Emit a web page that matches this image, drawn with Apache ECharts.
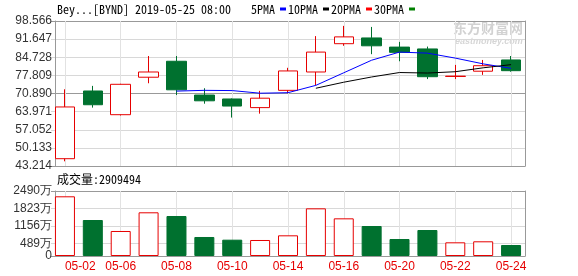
<!DOCTYPE html>
<html><head><meta charset="utf-8">
<script src="https://cdn.jsdelivr.net/npm/echarts@6/dist/echarts.min.js"></script>
<style>html,body{margin:0;padding:0;background:#fff}#c{width:578px;height:276px}</style>
</head><body><div id="c"></div>
<script>
const dates = ['05-02','05-03','05-06','05-07','05-08','05-09','05-10','05-13','05-14','05-15','05-16','05-17','05-20','05-21','05-22','05-23','05-24'];
const openV  = [46.0, 71.85, 62.8, 77.1, 83.2, 70.3, 68.8, 65.5, 72.1, 79.1, 89.9, 92.1, 88.6, 87.9, 77.4, 79.4, 83.7];
const closeV = [65.75, 66.6, 74.4, 79.1, 72.3, 68.1, 66.1, 69.1, 79.5, 86.7, 92.5, 89.1, 86.6, 77.3, 77.5, 81.5, 79.6];
const lowV   = [45.0, 65.5, 62.5, 74.8, 70.3, 67.0, 61.7, 63.2, 71.0, 74.1, 89.1, 85.9, 83.2, 76.4, 76.4, 78.0, 79.2];
const highV  = [72.5, 73.8, 74.6, 85.2, 85.2, 72.9, 69.0, 71.9, 80.7, 92.8, 96.7, 96.3, 90.6, 88.8, 81.8, 83.7, 85.2];
const ma5  = [null, null, null, null, 71.8, 72.1, 72.0, 71.0, 71.2, 74.0, 78.8, 83.6, 86.7, 86.3, 84.4, 82.2, 80.5];
const ma10 = [null, null, null, null, null, null, null, null, null, 72.9, 75.2, 77.2, 78.9, 78.7, 79.2, 80.7, 81.9];
const ma20 = [];
const ma30 = [];
const volume = [2287, 1379, 958, 1674, 1532, 728, 625, 613, 792, 1826, 1443, 1149, 651, 996, 524, 563, 421]; // 万
const priceTicks = [43.214, 50.133, 57.052, 63.971, 70.890, 77.809, 84.728, 91.647, 98.566];
const volumeTicks = [0, 489, 1156, 1823, 2490];
const titleText = 'Bey...[BYND] 2019-05-25 08:00';
const volumeTitle = '成交量:2909494';

const RED = '#e60000', GREEN = '#00712f';
const MONO = '"Noto Sans Mono CJK SC", "Liberation Mono", monospace';
const SANS = '"Liberation Sans", Arial, sans-serif';

const candleData = dates.map((d, i) => [openV[i], closeV[i], lowV[i], highV[i]]);
const volData = volume.map((v, i) => {
  const up = closeV[i] >= openV[i];
  return { value: v, itemStyle: up ? { color: '#fff', borderColor: RED, borderWidth: 1 } : { color: GREEN, borderColor: GREEN, borderWidth: 1 } };
});
// every other trading day gets a vertical guide line; drawn as splitLines of a
// hidden half-day category axis (boundary between the two halves of a day = its centre)
const halfDays = [];
dates.forEach(d => { halfDays.push(d + 'a'); halfDays.push(d + 'b'); });
const guideAxis = (g) => ({
  type: 'category', gridIndex: g, data: halfDays, boundaryGap: true, position: 'top',
  axisLine: { show: false }, axisTick: { show: false }, axisLabel: { show: false },
  splitLine: { show: true, interval: (idx) => idx % 4 === 1, lineStyle: { color: '#e2e2e2', type: 'solid', width: 1 } }
});

const chart = echarts.init(document.getElementById('c'), null, { renderer: 'canvas' });
const gridX = { left: 51, width: 474 };

chart.setOption({
  animation: false,
  backgroundColor: '#fff',
  title: [
    { text: titleText, left: 57, top: 3, padding: 0, textStyle: { fontFamily: MONO, fontSize: 12, fontWeight: 'normal', color: '#000' } },
    { text: volumeTitle, left: 57, top: 173, padding: 0, textStyle: { fontFamily: MONO, fontSize: 12, fontWeight: 'normal', color: '#000' } }
  ],
  legend: {
    data: ['5PMA', '10PMA', '20PMA', '30PMA'],
    left: 251, top: 3, padding: 0,
    icon: 'rect', itemWidth: 6, itemHeight: 3, itemGap: 2, align: 'right',
    textStyle: { fontFamily: MONO, fontSize: 12, color: '#000' },
    selectedMode: false
  },
  graphic: [
    { type: 'text', left: 453, top: 21, z: -1, style: { text: '东方财富网', font: 'bold 14px "Noto Sans CJK SC"', fill: '#d2d2d2' } },
    { type: 'text', left: 455, top: 37, z: -1, style: { text: 'eastmoney.com', font: 'italic bold 9px "Liberation Sans"', fill: '#d6d6d6' } }
  ],
  grid: [
    Object.assign({ top: 21, height: 145 }, gridX),
    Object.assign({ top: 191, height: 65 }, gridX)
  ],
  xAxis: [
    { type: 'category', gridIndex: 0, data: dates, boundaryGap: true,
      axisLine: { lineStyle: { color: '#999' } }, axisTick: { show: false }, axisLabel: { show: false },
      splitLine: { show: false } },
    { type: 'category', gridIndex: 1, data: dates, boundaryGap: true,
      axisLine: { lineStyle: { color: '#999' } }, axisTick: { show: false },
      axisLabel: { show: true, interval: 1, color: RED, fontSize: 12, fontFamily: SANS, margin: 5, alignMinLabel: 'left' },
      splitLine: { show: false } },
    guideAxis(0),
    guideAxis(1)
  ],
  yAxis: [
    { type: 'value', gridIndex: 0, min: 43.214, max: 98.566, position: 'left', offset: -4,
      axisLine: { show: true, lineStyle: { color: '#999' } },
      axisTick: { show: false, customValues: priceTicks },
      axisLabel: { customValues: priceTicks, formatter: v => v.toFixed(3), color: '#333', fontSize: 12, fontFamily: SANS, margin: 3 },
      splitLine: { show: true, lineStyle: { color: ['#999', '#d8d8d8', '#d8d8d8', '#d8d8d8', '#999', '#d8d8d8', '#d8d8d8', '#d8d8d8', '#999'] } } },
    { type: 'value', gridIndex: 0, min: 43.214, max: 98.566, position: 'right',
      axisLine: { show: true, lineStyle: { color: '#999' } }, axisTick: { show: false }, axisLabel: { show: false }, splitLine: { show: false } },
    { type: 'value', gridIndex: 1, min: 0, max: 2490, position: 'left', offset: -4,
      axisLine: { show: true, lineStyle: { color: '#999' } },
      axisTick: { show: false, customValues: volumeTicks },
      axisLabel: { customValues: volumeTicks, formatter: v => v === 0 ? '0' : v + '万', color: '#333', fontSize: 12, fontFamily: SANS, margin: 3 },
      splitLine: { show: true, lineStyle: { color: ['#999', '#d8d8d8', '#d8d8d8', '#d8d8d8', '#999'] } } },
    { type: 'value', gridIndex: 1, min: 0, max: 2490, position: 'right',
      axisLine: { show: true, lineStyle: { color: '#999' } }, axisTick: { show: false }, axisLabel: { show: false }, splitLine: { show: false } }
  ],
  series: [
    { name: 'K', type: 'candlestick', xAxisIndex: 0, yAxisIndex: 0, data: candleData, barWidth: 20, z: 3,
      itemStyle: { color: '#fff', color0: GREEN, borderColor: RED, borderColor0: GREEN, borderWidth: 1 } },
    { name: '5PMA', type: 'line', xAxisIndex: 0, yAxisIndex: 0, data: ma5, z: 4, showSymbol: false, symbol: 'none', color: '#0000ff', lineStyle: { width: 1, color: '#0000ff' } },
    { name: '10PMA', type: 'line', xAxisIndex: 0, yAxisIndex: 0, data: ma10, z: 4, showSymbol: false, symbol: 'none', color: '#000', lineStyle: { width: 1, color: '#000' } },
    { name: '20PMA', type: 'line', xAxisIndex: 0, yAxisIndex: 0, data: ma20, showSymbol: false, symbol: 'none', color: '#ff0000', lineStyle: { width: 1, color: '#ff0000' } },
    { name: '30PMA', type: 'line', xAxisIndex: 0, yAxisIndex: 0, data: ma30, showSymbol: false, symbol: 'none', color: '#008000', lineStyle: { width: 1, color: '#008000' } },
    { name: '成交量', type: 'bar', xAxisIndex: 1, yAxisIndex: 2, data: volData, barWidth: 20, z: 3 }
  ]
});
</script></body></html>
